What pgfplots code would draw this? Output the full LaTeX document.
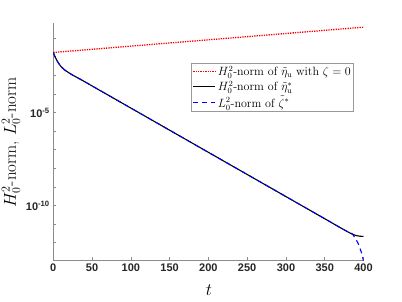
\documentclass[border=0pt]{standalone}
\usepackage{fontspec}
\setsansfont{Liberation Sans}
\usepackage{pgfplots}
\pgfplotsset{compat=1.18}
\definecolor{mred}{RGB}{255,0,0}
\begin{document}
\begin{tikzpicture}
\path[use as bounding box] (0,0) rectangle (402pt,301pt);
\begin{axis}[
  at={(53.3pt,41pt)}, anchor=south west,
  scale only axis, width=310.2pt, height=237.3pt,
  xmin=0, xmax=400, ymode=log, ymin=1.175e-13, ymax=0.676,
  axis x line*=bottom, axis y line*=left,
  axis line style={black!45, line width=0.6pt, -},
  tick style={black!45, line width=0.6pt},
  tick align=inside,
  major tick length=3pt, minor tick length=3pt,
  xtick={0,50,...,400},
  ytick={1e-10,1e-5},
  yticklabels={{10\textsuperscript{-10}},{10\textsuperscript{-5}}},
  minor ytick={1e-12,1e-11,1e-9,1e-8,1e-7,1e-6,1e-4,1e-3,1e-2,1e-1},
  ticklabel style={font=\sffamily\bfseries\fontsize{11}{13}\selectfont, text=black!85},
  /pgf/number format/assume math mode=true,
  xlabel={$t$}, ylabel={$H_0^2$-norm, $L_0^2$-norm},
  label style={font=\fontsize{17}{20}\selectfont},
  xlabel style={at={(axis description cs:0.502,-0.1264)}, anchor=center},
  ylabel style={at={(axis description cs:-0.1364,0.495)}, anchor=center},
  legend style={at={(0.969,0.831)}, anchor=north east, draw=black!40, fill=white,
    font=\fontsize{12}{14}\selectfont, inner sep=1pt, row sep=0pt},
  legend cell align=left,
  legend image code/.code={\draw[#1] (0pt,0pt) -- (22pt,0pt);},
]
\addplot[draw=mred, dash pattern=on 1.3pt off 1.1pt, line width=1.3pt,
  legend image code/.code={\draw[draw=mred, dash pattern=on 1.3pt off 1.1pt, line width=1.3pt] (0pt,0pt) -- (22pt,0pt);}]
  coordinates {(0,0.01698) (400,0.389)};
\addlegendentry{$H_0^2$-norm of $\tilde{\eta}_{\mathrm{u}}$ with $\zeta=0$}
\addplot[black, line width=1.1pt, smooth] coordinates {
(0,0.01698) (2,0.010471) (4,0.007079) (6,0.005012) (8,0.003802) (10,0.002951)
(15,0.001905) (20,0.001380) (25,0.001023) (30,7.943e-4) (40,4.677e-4)
(50,2.692e-4) (100,1.738e-5) (150,1.122e-6) (200,7.244e-8) (250,4.677e-9)
(300,3.020e-10) (350,1.950e-11) (370,6.457e-12) (380,3.802e-12) (385,2.951e-12)
(390,2.455e-12) (395,2.239e-12) (400,2.188e-12)};
\addlegendentry{$H_0^2$-norm of $\tilde{\eta}_{\mathrm{u}}^*$}
\addplot[blue, dash pattern=on 5pt off 4pt, line width=1.1pt, smooth] coordinates {
(0,0.01698) (2,0.010471) (4,0.007079) (6,0.005012) (8,0.003802) (10,0.002951)
(15,0.001905) (20,0.001380) (25,0.001023) (30,7.943e-4) (40,4.677e-4)
(50,2.692e-4) (100,1.738e-5) (150,1.122e-6) (200,7.244e-8) (250,4.677e-9)
(300,3.020e-10) (350,1.950e-11) (370,6.457e-12) (380,3.802e-12) (385,3.162e-12)
(389,1.820e-12) (393,9.333e-13) (396,4.266e-13) (398,2.512e-13) (399,1.585e-13) (400,1.0e-13)};
\addlegendentry{$L_0^2$-norm of $\tilde{\zeta}^*$}
\end{axis}
\end{tikzpicture}
\end{document}
